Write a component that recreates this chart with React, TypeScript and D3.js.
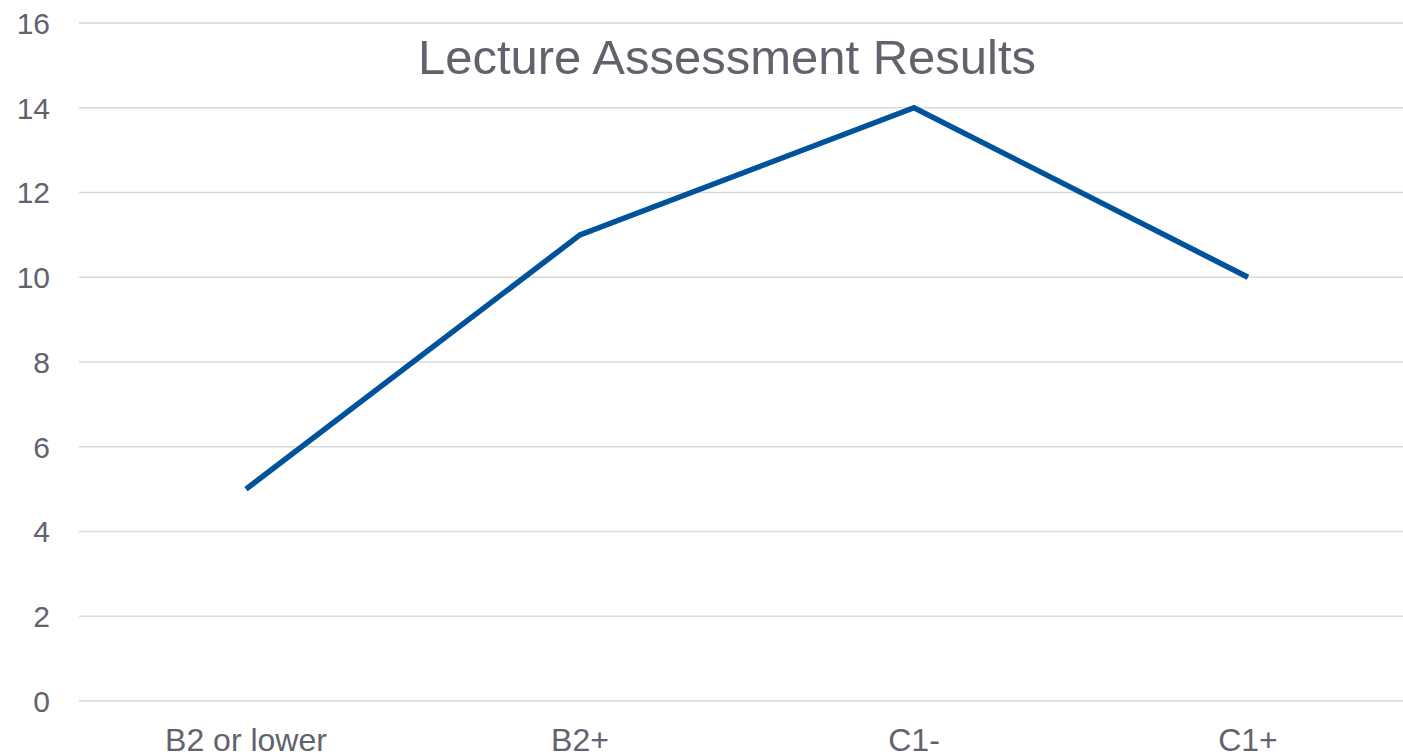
import * as d3 from "d3";
import { useEffect, useRef } from "react";

const categories = ["B2 or lower", "B2+", "C1-", "C1+"];
const values = [5, 11, 14, 10];
const yTicks = [0, 2, 4, 6, 8, 10, 12, 14, 16];
const chartTitle = "Lecture Assessment Results";

const W = 1403;
const H = 754;
const margin = { top: 23, left: 79, right: -12, bottom: 53 };

export default function App() {
  const ref = useRef<SVGSVGElement>(null);

  useEffect(() => {
    const svg = d3.select(ref.current);
    svg.selectAll("*").remove();

    const x = d3
      .scaleBand()
      .domain(categories)
      .range([margin.left, W - margin.right]);
    const y = d3
      .scaleLinear()
      .domain([0, 16])
      .range([H - margin.bottom, margin.top]);

    const font = "'Liberation Sans', Arial, sans-serif";
    const textColor = "#62626f";

    // grid
    svg
      .append("g")
      .selectAll("line")
      .data(yTicks)
      .enter()
      .append("line")
      .attr("x1", margin.left)
      .attr("x2", W - margin.right)
      .attr("y1", (d) => y(d))
      .attr("y2", (d) => y(d))
      .attr("stroke", "#d9d9d9")
      .attr("stroke-width", 1.5);

    // y labels
    svg
      .append("g")
      .selectAll("text")
      .data(yTicks)
      .enter()
      .append("text")
      .attr("x", 50)
      .attr("y", (d) => y(d))
      .attr("dy", "0.36em")
      .attr("text-anchor", "end")
      .attr("font-family", font)
      .attr("font-size", 30)
      .attr("fill", textColor)
      .text((d) => d);

    // x labels
    svg
      .append("g")
      .selectAll("text")
      .data(categories)
      .enter()
      .append("text")
      .attr("x", (d) => x(d)! + x.bandwidth() / 2)
      .attr("y", 751)
      .attr("text-anchor", "middle")
      .attr("font-family", font)
      .attr("font-size", 32)
      .attr("fill", textColor)
      .text((d) => d);

    // line
    const line = d3
      .line<number>()
      .x((d, i) => x(categories[i])! + x.bandwidth() / 2)
      .y((d) => y(d));

    svg
      .append("path")
      .datum(values)
      .attr("d", line)
      .attr("fill", "none")
      .attr("stroke", "#00529b")
      .attr("stroke-width", 5.5)
      .attr("stroke-linejoin", "miter");

    // title
    svg
      .append("text")
      .attr("x", 727)
      .attr("y", 74)
      .attr("text-anchor", "middle")
      .attr("font-family", font)
      .attr("font-size", 49)
      .attr("fill", textColor)
      .text(chartTitle);
  }, []);

  return (
    <div style={{ position: "fixed", left: 0, top: 0, background: "#fff" }}>
      <svg ref={ref} width={W} height={H} style={{ display: "block" }} />
    </div>
  );
}
